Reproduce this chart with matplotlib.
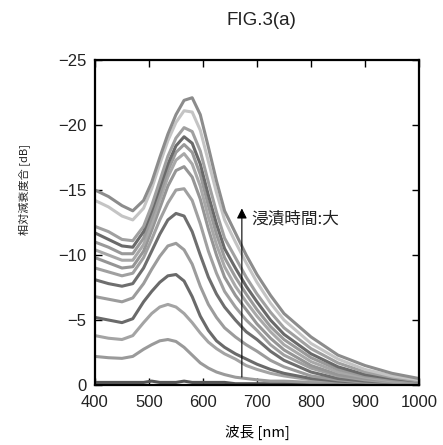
import matplotlib
matplotlib.use('Agg')
import matplotlib.pyplot as plt

plt.rcParams['font.family'] = ['Liberation Sans', 'Noto Sans CJK JP', 'DejaVu Sans']

# --- 波長 [nm] ---
wavelength = [400, 425, 450, 470, 490, 505, 520, 535, 550, 565, 580, 595, 610,
              625, 640, 660, 680, 700, 725, 750, 800, 850, 900, 950, 1000]

# --- 相対減衰度合 [dB] (浸漬時間: 小 -> 大) ---
att_t0 = [-0.2, -0.2, -0.2, -0.2, -0.2, -0.3, -0.2, -0.2, -0.2, -0.3, -0.2, -0.2, -0.2,
          -0.2, -0.2, -0.1, -0.1, -0.1, -0.1, -0.1, -0.1, -0.1, -0.1, -0.1, -0.1]
att_t1 = [-2.2, -2.1, -2.05, -2.2, -2.75, -3.1, -3.4, -3.5, -3.35, -2.9, -2.3, -1.7, -1.3,
          -1.0, -0.8, -0.6, -0.5, -0.4, -0.3, -0.3, -0.2, -0.2, -0.1, -0.1, -0.1]
att_t2 = [-3.8, -3.6, -3.5, -3.8, -4.8, -5.5, -6.0, -6.2, -6.0, -5.5, -4.8, -4.0, -3.3,
          -2.8, -2.4, -2.0, -1.5, -1.2, -0.9, -0.7, -0.4, -0.3, -0.2, -0.1, -0.1]
att_t3 = [-5.2, -5.0, -4.8, -5.1, -6.4, -7.2, -7.9, -8.4, -8.5, -8.0, -6.8, -5.3, -4.2,
          -3.4, -2.9, -2.4, -2.0, -1.6, -1.2, -0.9, -0.5, -0.3, -0.2, -0.1, -0.1]
att_t4 = [-6.8, -6.6, -6.4, -6.7, -7.8, -8.9, -9.9, -10.7, -10.9, -10.4, -9.3, -7.6, -6.2,
          -5.2, -4.4, -3.7, -3.1, -2.6, -1.9, -1.4, -0.7, -0.4, -0.2, -0.1, -0.1]
att_t5 = [-8.1, -7.8, -7.6, -7.8, -9.0, -10.3, -11.6, -12.7, -13.2, -13.0, -11.8, -10.0, -8.3,
          -7.0, -6.0, -5.0, -4.1, -3.5, -2.6, -1.9, -1.0, -0.5, -0.3, -0.2, -0.1]
att_t6 = [-9.0, -8.7, -8.4, -8.6, -9.8, -11.2, -12.7, -14.0, -15.0, -15.1, -14.2, -12.4, -10.3,
          -8.6, -7.2, -6.0, -5.0, -4.2, -3.1, -2.3, -1.3, -0.7, -0.4, -0.2, -0.1]
att_t7 = [-9.8, -9.4, -9.0, -9.1, -10.3, -11.9, -13.6, -15.3, -16.5, -16.8, -16.0, -14.3, -12.0,
          -10.0, -8.3, -6.9, -5.8, -4.7, -3.6, -2.7, -1.5, -0.8, -0.5, -0.3, -0.2]
att_t8 = [-10.4, -10.0, -9.6, -9.6, -10.8, -12.4, -14.2, -16.0, -17.3, -17.8, -17.0, -15.3, -12.9,
          -10.8, -9.1, -7.6, -6.4, -5.3, -4.1, -3.1, -1.8, -1.0, -0.6, -0.3, -0.2]
att_t9 = [-11.0, -10.6, -10.1, -10.1, -11.3, -12.9, -14.7, -16.5, -17.9, -18.5, -17.9, -16.2, -13.8,
          -11.6, -9.8, -8.3, -7.0, -5.8, -4.5, -3.5, -2.1, -1.2, -0.7, -0.4, -0.2]
att_t10 = [-11.7, -11.2, -10.7, -10.6, -11.8, -13.4, -15.2, -17.0, -18.4, -19.1, -18.6, -17.0, -14.6,
           -12.4, -10.5, -9.0, -7.6, -6.4, -5.0, -3.9, -2.4, -1.4, -0.8, -0.5, -0.3]
att_t11 = [-12.2, -11.8, -11.2, -11.1, -12.2, -13.8, -15.7, -17.6, -19.0, -19.8, -19.5, -18.0, -15.6,
           -13.3, -11.3, -9.8, -8.3, -7.0, -5.6, -4.4, -2.8, -1.7, -1.0, -0.6, -0.3]
att_t12 = [-14.2, -13.7, -13.0, -12.7, -13.6, -15.1, -17.0, -18.8, -20.2, -21.1, -21.0, -19.6, -17.2,
           -14.8, -12.7, -11.0, -9.4, -7.9, -6.3, -5.0, -3.2, -2.0, -1.2, -0.7, -0.4]
att_t13 = [-15.0, -14.5, -13.8, -13.4, -14.2, -15.6, -17.5, -19.3, -20.8, -21.9, -22.1, -20.8, -18.3,
           -15.7, -13.4, -11.7, -10.0, -8.5, -6.9, -5.5, -3.7, -2.3, -1.5, -0.9, -0.5]

curves = [att_t0, att_t1, att_t2, att_t3, att_t4, att_t5, att_t6,
          att_t7, att_t8, att_t9, att_t10, att_t11, att_t12, att_t13]

# 線の色 (グレースケール)
line_colors = ['#555555', '#9a9a9a', '#a4a4a4', '#6a6a6a', '#9c9c9c', '#6e6e6e', '#a0a0a0',
               '#959595', '#a8a8a8', '#9a9a9a', '#6a6a6a', '#a0a0a0', '#c4c4c4', '#8c8c8c']

x_ticks = [400, 500, 600, 700, 800, 900, 1000]
y_ticks = [0, -5, -10, -15, -20, -25]

fig = plt.figure(figsize=(4.43, 4.45), dpi=100)
ax = fig.add_axes([0.2144, 0.1348, 0.7314, 0.7303])

for vals, c in zip(curves, line_colors):
    ax.plot(wavelength, vals, color=c, lw=2.2, solid_joinstyle='round', solid_capstyle='round')

ax.set_xlim(400, 1000)
ax.set_ylim(0, -25)
ax.set_xticks(x_ticks)
ax.set_yticks(y_ticks)
ax.tick_params(direction='in', length=5, width=1, top=True, right=True,
               labelsize=12, labelcolor='#222222')
ax.tick_params(axis='x', pad=7)
ax.tick_params(axis='y', pad=6)
for s in ax.spines.values():
    s.set_linewidth(1.6)
    s.set_color('black')

# 浸漬時間の矢印
ax.annotate('', xy=(672, -13.8), xytext=(672, -0.4),
            arrowprops=dict(arrowstyle='-|>', lw=0.8, color='black', mutation_scale=15))
ax.text(689, -12.8, '浸漬時間:大', fontsize=12, color='#222222',
        family=['Noto Sans CJK JP'], va='center', ha='left')

ax.set_xlabel('波長 [nm]', fontsize=10.5, family=['Noto Sans CJK JP'], labelpad=11)
fig.text(0.054, 0.573, '相対減衰度合 [dB]', rotation=90, fontsize=8,
         family=['Noto Sans CJK JP'], ha='center', va='center', color='#222222')

fig.text(0.591, 0.955, 'FIG.3(a)', fontsize=13.5, ha='center', va='center', color='#222222')

fig.savefig('out.png', dpi=100)
